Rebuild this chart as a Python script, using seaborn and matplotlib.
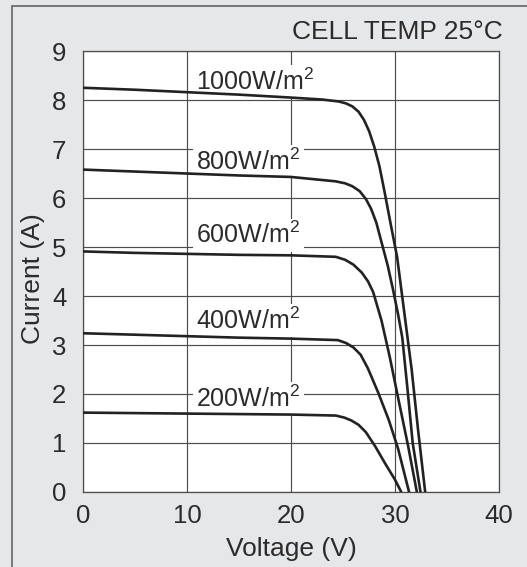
import matplotlib
matplotlib.use("Agg")
import matplotlib.pyplot as plt
from matplotlib.lines import Line2D
import seaborn as sns
import pandas as pd

# I-V curves of a PV module at several irradiance levels (cell temp 25 °C)
v_1000 = [0, 5, 10, 15, 20, 23, 24.6, 25.3, 25.9, 26.5, 27.0, 27.5, 28.0, 28.5, 29.0, 29.6, 30.2, 30.9, 31.6, 32.2, 32.9]
i_1000 = [8.25, 8.21, 8.16, 8.11, 8.05, 8.01, 7.97, 7.93, 7.87, 7.76, 7.60, 7.37, 7.05, 6.65, 6.12, 5.45, 4.80, 3.65, 2.50, 1.30, 0.0]

v_800 = [0, 5, 10, 15, 20, 24.3, 25.2, 25.9, 26.6, 27.2, 27.7, 28.2, 28.7, 29.3, 29.8, 30.3, 30.7, 31.2, 31.7, 32.45]
i_800 = [6.58, 6.54, 6.50, 6.46, 6.43, 6.34, 6.30, 6.24, 6.14, 5.98, 5.78, 5.50, 5.10, 4.62, 4.14, 3.62, 3.15, 2.10, 1.00, 0.0]

v_600 = [0, 5, 10, 15, 20, 24.3, 25.2, 26.0, 26.8, 27.4, 27.9, 28.7, 29.5, 30.3, 31.25, 32.1]
i_600 = [4.91, 4.88, 4.86, 4.84, 4.83, 4.80, 4.74, 4.64, 4.48, 4.30, 4.08, 3.50, 2.75, 1.92, 0.95, 0.0]

v_400 = [0, 5, 10, 15, 20, 24.5, 25.3, 26.0, 26.7, 27.4, 28.4, 29.4, 30.3, 31.35]
i_400 = [3.24, 3.21, 3.18, 3.15, 3.13, 3.10, 3.04, 2.95, 2.80, 2.52, 2.02, 1.47, 0.88, 0.0]

v_200 = [0, 5, 10, 15, 20, 24.3, 25.1, 25.8, 26.5, 27.2, 28.1, 29.0, 30.0, 30.6]
i_200 = [1.62, 1.61, 1.60, 1.59, 1.58, 1.56, 1.52, 1.46, 1.37, 1.22, 0.93, 0.60, 0.25, 0.0]

irradiance = [1000, 800, 600, 400, 200]
label_current = [8.38, 6.74, 5.24, 3.50, 1.90]
label_voltage = 10.9

x_ticks = [0, 10, 20, 30, 40]
y_ticks = list(range(0, 10))

curves = {1000: (v_1000, i_1000), 800: (v_800, i_800), 600: (v_600, i_600),
          400: (v_400, i_400), 200: (v_200, i_200)}
frames = [pd.DataFrame({"Voltage": v, "Current": i, "Irradiance": g})
          for g, (v, i) in curves.items()]
df = pd.concat(frames, ignore_index=True)

sns.set_theme(style="whitegrid")
plt.rcParams["font.family"] = ["Liberation Sans", "DejaVu Sans"]
plt.rcParams["mathtext.fontset"] = "custom"
plt.rcParams["mathtext.rm"] = "Liberation Sans"

bg = "#e6e7e9"
grid_col = "#4d4d4d"
text_col = "#2b2b2b"

fig = plt.figure(figsize=(5.27, 5.67), dpi=100, facecolor=bg)
ax = fig.add_axes([0.1575, 0.1323, 0.7894, 0.7777])
ax.set_facecolor("white")

sns.lineplot(data=df, x="Voltage", y="Current", hue="Irradiance",
             palette={g: "#222222" for g in irradiance}, estimator=None,
             sort=False, linewidth=1.9, legend=False, ax=ax, zorder=3)

ax.set_xlim(0, 40)
ax.set_ylim(0, 9)
ax.set_xticks(x_ticks)
ax.set_yticks(y_ticks)
ax.tick_params(axis="both", length=0, labelsize=18.5, colors=text_col)
ax.tick_params(axis="x", pad=9)
ax.tick_params(axis="y", pad=12)
ax.grid(True, color=grid_col, linewidth=0.85)
for s in ax.spines.values():
    s.set_color(grid_col)
    s.set_linewidth(0.9)

ax.set_xlabel("Voltage (V)", fontsize=19, color=text_col, labelpad=6)
ax.set_ylabel("Current (A)", fontsize=19, color=text_col, va="center")
ax.yaxis.set_label_coords(-0.12, 0.483)

for g, yc in zip(irradiance, label_current):
    ax.text(label_voltage, yc, f"{g}W/m$^{{\\mathregular{{2}}}}$",
            fontsize=18, color=text_col, ha="left", va="center", zorder=2,
            bbox=dict(facecolor="white", edgecolor="none", pad=2.5))

fig.text(503 / 527, 1 - 32 / 567, "CELL TEMP 25°C", fontsize=19,
         color=text_col, ha="right", va="center")

# outer frame (left and top edges)
fig.add_artist(Line2D([11.5 / 527, 11.5 / 527], [0, 1 - 5.5 / 567],
                      transform=fig.transFigure, color="#6f6f6f", linewidth=1.3))
fig.add_artist(Line2D([11.5 / 527, 1], [1 - 5.5 / 567, 1 - 5.5 / 567],
                      transform=fig.transFigure, color="#6f6f6f", linewidth=1.3))

fig.savefig("out.png", dpi=100, facecolor=bg)
